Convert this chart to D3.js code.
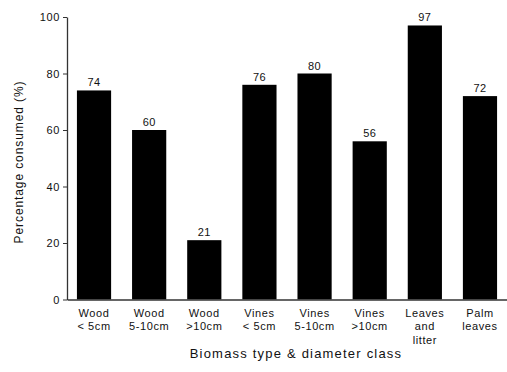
<!DOCTYPE html>
<html>
<head>
<meta charset="utf-8">
<script src="https://cdn.jsdelivr.net/npm/d3@7"></script>
<style>
  body { margin: 0; background: #fff; }
  svg { font-family: "Liberation Sans", Arial, sans-serif; }
  .tick text { font-size: 11px; letter-spacing: 0.6px; fill: #111; }
  .lbl { font-size: 11px; letter-spacing: 0.4px; fill: #111; }
</style>
</head>
<body>
<div id="chart"></div>
<script>
// biomass classes (one line per row of the tick label)
const categories = [
  ['Wood', '< 5cm'],
  ['Wood', '5-10cm'],
  ['Wood', '>10cm'],
  ['Vines', '< 5cm'],
  ['Vines', '5-10cm'],
  ['Vines', '>10cm'],
  ['Leaves', 'and', 'litter'],
  ['Palm', 'leaves']
];
const consumed = [74, 60, 21, 76, 80, 56, 97, 72];
const yTicks = [0, 20, 40, 60, 80, 100];

const width = 507, height = 372;
const margin = {top: 17, right: 0, bottom: 72, left: 67};

const svg = d3.select('#chart')
  .append('svg')
  .attr('width', width)
  .attr('height', height);

const x = d3.scaleBand()
  .domain(d3.range(categories.length))
  .range([margin.left, width - margin.right])
  .paddingInner(0.38)
  .paddingOuter(0.18);

const y = d3.scaleLinear()
  .domain([0, 100])
  .range([height - margin.bottom - 0.5, margin.top]);

// bars
svg.append('g')
  .selectAll('rect')
  .data(consumed)
  .join('rect')
  .attr('x', (d, i) => x(i))
  .attr('y', d => y(d))
  .attr('width', x.bandwidth())
  .attr('height', d => y(0) - y(d))
  .attr('fill', '#000');

// value labels
svg.append('g')
  .selectAll('text')
  .data(consumed)
  .join('text')
  .attr('class', 'lbl')
  .attr('x', (d, i) => x(i) + x.bandwidth() / 2)
  .attr('y', d => y(d) - 4)
  .attr('text-anchor', 'middle')
  .text(d => d);

// y axis
const yAxis = svg.append('g')
  .attr('transform', `translate(${margin.left},0)`)
  .call(d3.axisLeft(y).tickValues(yTicks).tickSize(4).tickPadding(3).tickSizeOuter(0));
yAxis.select('.domain').attr('stroke', '#333').attr('stroke-width', 1.3);
yAxis.selectAll('.tick line').attr('stroke', '#333');

// x axis, labels in several lines
const xAxis = svg.append('g')
  .attr('transform', `translate(0,${y(0)})`)
  .call(d3.axisBottom(x).tickSize(0).tickSizeOuter(0).tickFormat(''));
xAxis.select('.domain').attr('stroke', '#333').attr('stroke-width', 1.3);
xAxis.selectAll('.tick text').remove();
xAxis.selectAll('.tick')
  .append('text')
  .attr('text-anchor', 'middle')
  .attr('fill', '#111')
  .selectAll('tspan')
  .data(i => categories[i])
  .join('tspan')
  .attr('x', 0)
  .attr('y', (d, j) => 17 + j * 13.5)
  .text(d => d);

// axis titles
svg.append('text')
  .attr('x', 296)
  .attr('y', 358)
  .attr('text-anchor', 'middle')
  .style('font-size', '13px')
  .style('letter-spacing', '1.2px')
  .attr('fill', '#111')
  .text('Biomass type & diameter class');

svg.append('text')
  .attr('transform', 'translate(23,162) rotate(-90)')
  .attr('text-anchor', 'middle')
  .style('font-size', '12px')
  .style('letter-spacing', '0.9px')
  .attr('fill', '#111')
  .text('Percentage consumed (%)');
</script>
</body>
</html>
